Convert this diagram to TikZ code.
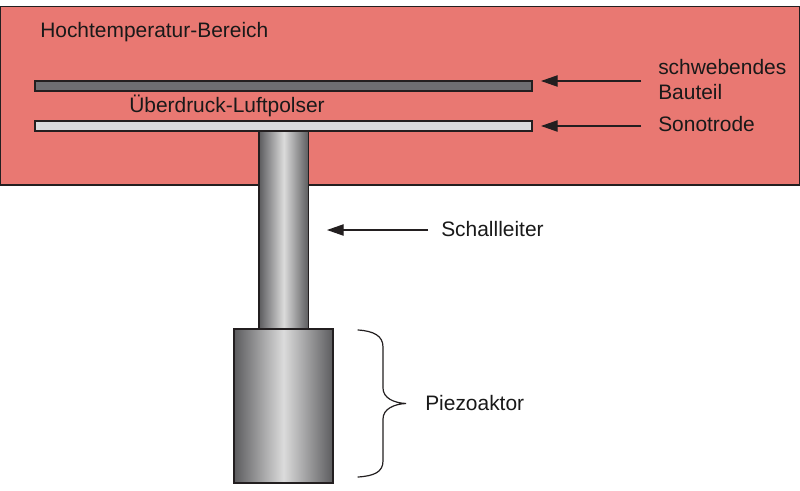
\documentclass[tikz,border=0pt]{standalone}
\usepackage{fontspec}
\setmainfont{Liberation Sans}
\usetikzlibrary{arrows.meta}
\definecolor{hotred}{HTML}{E97872}
\definecolor{barDark}{HTML}{6E6E72}
\definecolor{barLight}{HTML}{DADBDD}
\definecolor{inkline}{HTML}{231F20}
\pgfdeclarehorizontalshading{metalshade}{100bp}{
  rgb(0bp)=(0.36,0.36,0.37);
  rgb(25bp)=(0.36,0.36,0.37);
  rgb(50bp)=(0.86,0.86,0.86);
  rgb(75bp)=(0.36,0.36,0.37);
  rgb(100bp)=(0.36,0.36,0.37)}
\tikzset{
  outline/.style={draw=inkline,line width=1.1pt},
  metal/.style={outline,shade,shading=metalshade},
  label/.style={anchor=base west,inner sep=0pt,text=black!90,font=\fontsize{15.7pt}{18pt}\selectfont},
  pointer/.style={draw=inkline,line width=0.9pt,-{Triangle[length=12.5pt,width=8.5pt]}},
  bracepath/.style={draw=inkline,line width=0.9pt,line cap=round}
}
\begin{document}
\begin{tikzpicture}[x=0.75pt,y=-0.75pt]
\useasboundingbox (0,0) rectangle (800,490);
\fill[white] (0,0) rectangle (800,490);
\draw[outline,fill=hotred] (0.5,6.5) rectangle (799.5,185);
\draw[metal] (259,131) rectangle (308.5,329);
\draw[outline,fill=barDark] (35,81) rectangle (532,91);
\draw[outline,fill=barLight] (35,121) rectangle (532,131);
\draw[metal] (234,329) rectangle (333,483);
\node[label] (hot) at (40,37) {Hochtemperatur-Bereich};
\node[label] (cushion) at (129,112) {Überdruck-Luftpolser};
\node[label] (part1) at (658,74) {schwebendes};
\node[label] (part2) at (658,99.5) {Bauteil};
\node[label] (sono) at (658,131.5) {Sonotrode};
\node[label] (cond) at (441,236) {Schallleiter};
\node[label] (piezo) at (425,410) {Piezoaktor};
\coordinate (partFrom) at (641,81);
\coordinate (partTo) at (541,81);
\coordinate (sonoFrom) at (641,126);
\coordinate (sonoTo) at (541,126);
\coordinate (condFrom) at (428,230);
\coordinate (condTo) at (327,230);
\draw[pointer] (partFrom) -- (partTo);
\draw[pointer] (sonoFrom) -- (sonoTo);
\draw[pointer] (condFrom) -- (condTo);
\draw[bracepath] (358,330) .. controls (374,331) and (383,336) .. (383,347)
  -- (383,388) .. controls (383,398) and (394,403) .. (406,403.5)
  .. controls (394,404) and (383,409) .. (383,419)
  -- (383,461) .. controls (383,472) and (374,476) .. (358,477);
\end{tikzpicture}
\end{document}
